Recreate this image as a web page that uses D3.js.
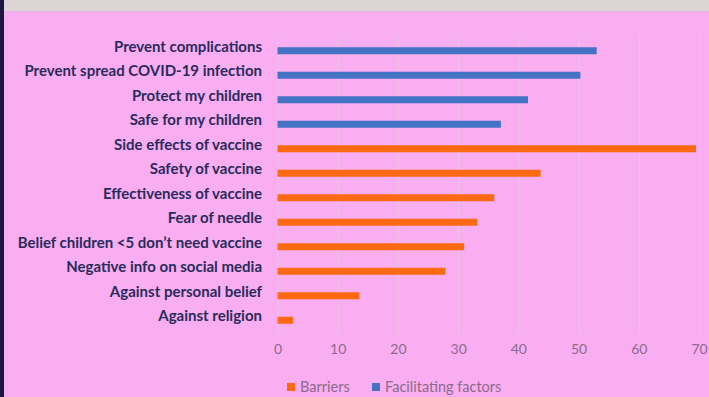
<!DOCTYPE html>
<html>
<head>
<meta charset="utf-8">
<script src="https://cdn.jsdelivr.net/npm/d3@7"></script>
<style>
  body { margin: 0; background: #f8aef0; }
  #graf { width: 709px; height: 397px; }
</style>
</head>
<body>
<div id="graf"></div>
<script>
// Barras horizontales: barreras y facilitadores de la vacuna

categorias = [
  'Prevent complications',
  'Prevent spread COVID-19 infection',
  'Protect my children',
  'Safe for my children',
  'Side effects of vaccine',
  'Safety of vaccine',
  'Effectiveness of vaccine',
  'Fear of needle',
  'Belief children <5 don\u2019t need vaccine',
  'Negative info on social media',
  'Against personal belief',
  'Against religion'
]
facilitadores = [53, 50.3, 41.6, 37.1, null, null, null, null, null, null, null, null]
barreras      = [null, null, null, null, 69.5, 43.7, 36, 33.2, 31, 27.9, 13.6, 2.6]
ticks = [0, 10, 20, 30, 40, 50, 60, 70]
series = ['Barriers', 'Facilitating factors']

ancho_total = 709
alto_total  = 397

svg = d3.select('#graf').append('svg')
        .attr('width', ancho_total)
        .attr('height', alto_total)

// fondo
svg.append('rect').attr('width', ancho_total).attr('height', alto_total).attr('fill', '#f8aef0')
svg.append('rect').attr('width', ancho_total).attr('height', 11).attr('fill', '#ddd4d6')
svg.append('line').attr('x1', 0).attr('x2', ancho_total).attr('y1', 11.5).attr('y2', 11.5)
   .attr('stroke', '#e6b4e0')
svg.append('rect').attr('width', 4).attr('height', alto_total).attr('fill', '#1e1640')

// Escaladores
x = d3.scaleLinear().domain([0, 70]).range([277.5, 699])
y = d3.scaleBand().domain(categorias).range([38.5, 332.5])
color = d3.scaleOrdinal().domain(series).range(['#fb6a12', '#4472c4'])

// grilla
svg.append('g').selectAll('line')
   .data(ticks)
   .join('line')
   .attr('x1', d => x(d) + 0.5).attr('x2', d => x(d) + 0.5)
   .attr('y1', 36).attr('y2', 334)
   .attr('stroke', '#ebc3e6')
   .attr('stroke-width', 1)

// eje x (solo etiquetas)
xAxis = svg.append('g')
   .attr('transform', 'translate(0, 344)')
   .call(d3.axisBottom(x).tickValues(ticks).tickSize(0).tickPadding(0))
xAxis.select('.domain').remove()
xAxis.selectAll('text')
   .attr('font-family', 'Lato, sans-serif')
   .attr('font-size', 14)
   .attr('fill', '#8c6a8c')
   .attr('dy', '0.71em')

// eje y
yAxis = svg.append('g')
   .attr('transform', 'translate(262, 0)')
   .call(d3.axisLeft(y).tickSize(0).tickPadding(0))
yAxis.select('.domain').remove()
yAxis.selectAll('text')
   .attr('font-family', 'Lato, sans-serif')
   .attr('font-weight', 'bold')
   .attr('font-size', 15)
   .attr('fill', '#2a2b5c')
   .attr('y', -4)

// barras
datos = categorias.map((c, i) => ({
  cat: c,
  serie: facilitadores[i] != null ? 'Facilitating factors' : 'Barriers',
  value: facilitadores[i] != null ? facilitadores[i] : barreras[i]
}))

alto_barra = 7
svg.append('g').selectAll('rect')
   .data(datos)
   .join('rect')
   .attr('x', x(0))
   .attr('y', d => y(d.cat) + y.bandwidth() / 2 - alto_barra / 2)
   .attr('width', d => x(d.value) - x(0))
   .attr('height', alto_barra)
   .attr('fill', d => color(d.serie))

// leyenda
leyenda = svg.append('g').attr('transform', 'translate(287, 387)')
posiciones = [0, 85]
series.forEach((s, i) => {
  item = leyenda.append('g').attr('transform', `translate(${posiciones[i]}, 0)`)
  item.append('rect')
      .attr('y', -4).attr('width', 8).attr('height', 8)
      .attr('fill', color(s))
  item.append('text')
      .attr('x', 13)
      .attr('dy', '0.35em')
      .attr('font-family', 'Lato, sans-serif')
      .attr('font-size', 14.5)
      .attr('fill', '#8c6a8c')
      .text(s)
})
</script>
</body>
</html>
